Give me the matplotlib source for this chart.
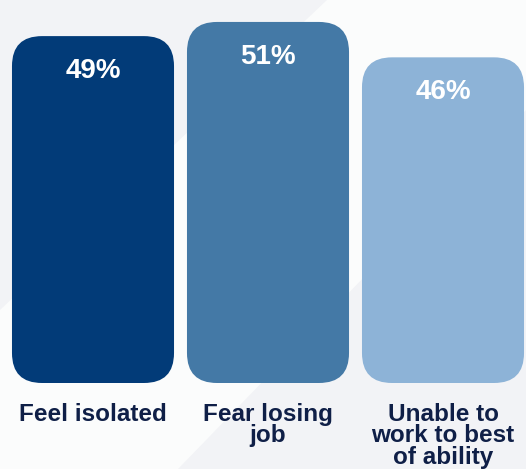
import matplotlib
matplotlib.use('Agg')
import matplotlib.pyplot as plt
from matplotlib.patches import FancyBboxPatch, Polygon

categories = ['Feel isolated', 'Fear losing\njob', 'Unable to\nwork to best\nof ability']
values = [49, 51, 46]
value_labels = ['49%', '51%', '46%']
colors = ['#023b78', '#4479a6', '#8db3d7']

plt.rcParams['font.family'] = ['Liberation Sans', 'DejaVu Sans']

W, H = 526, 469
fig = plt.figure(figsize=(W / 100, H / 100), dpi=100)
fig.patch.set_facecolor('#f2f3f6')

# background axes with a light diagonal band
bg = fig.add_axes([0, 0, 1, 1], zorder=-1)
bg.set_xlim(0, 1)
bg.set_ylim(0, 1)
bg.axis('off')
bg.add_patch(Polygon([(0, 1 - 310 / H), (327 / W, 1), (1, 1), (1, 1 - 110 / H),
                      (178 / W, 0), (0, 0)], closed=True,
                     facecolor='#fbfcfc', edgecolor='none'))

ax = fig.add_axes([5.5 / W, 86 / H, 525 / W, 1 - 86 / H])
ax.set_xlim(-0.5, 2.5)
ax.set_ylim(0, 54.1)
ax.patch.set_alpha(0)
ax.axis('off')

bars = ax.bar(range(len(values)), values, width=0.926, color=colors)

# rounded corners: swap the plain bars for rounded boxes
px_x = ax.transData.transform((1, 0))[0] - ax.transData.transform((0, 0))[0]
px_y = ax.transData.transform((0, 1))[1] - ax.transData.transform((0, 0))[1]
radius_px = 30
for bar in bars:
    x, y = bar.get_x(), bar.get_y()
    w, h = bar.get_width(), bar.get_height()
    box = FancyBboxPatch((x, y), w, h,
                         boxstyle='round,pad=0,rounding_size=%f' % (radius_px / px_x),
                         mutation_aspect=px_x / px_y,
                         facecolor=bar.get_facecolor(), edgecolor='none')
    ax.add_patch(box)
    bar.remove()

for i, v in enumerate(values):
    ax.text(i, v - 35 / px_y, value_labels[i], ha='center', va='center',
            color='white', fontsize=20, fontweight='bold')
    ax.text(i, -20 / px_y, categories[i], ha='center', va='top',
            color='#0f1f47', fontsize=17.5, fontweight='bold',
            linespacing=0.91, clip_on=False)

fig.savefig('out.png', dpi=100, facecolor=fig.get_facecolor())
